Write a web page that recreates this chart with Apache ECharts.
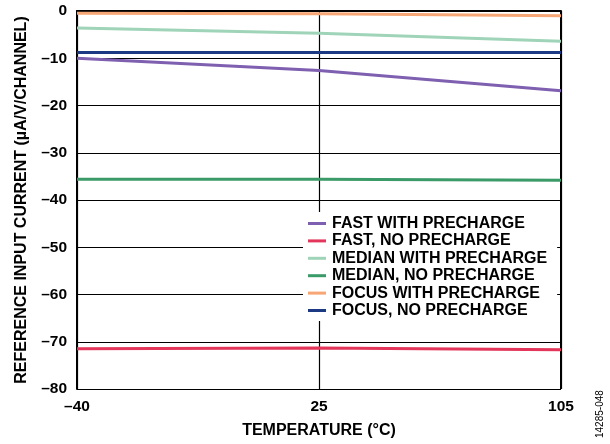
<!DOCTYPE html>
<html><head><meta charset="utf-8">
<script src="https://cdn.jsdelivr.net/npm/echarts@6/dist/echarts.min.js"></script>
<style>html,body{margin:0;padding:0;background:#fff}#c{width:610px;height:444px}</style>
</head><body><div id="c"></div>
<script>
const categories = ['-40', '25', '105'];
const fastWith = [-10.0, -12.6, -16.9];
const fastNo = [-71.5, -71.3, -71.7];
const medianWith = [-3.6, -4.7, -6.4];
const medianNo = [-35.6, -35.6, -35.8];
const focusWith = [-0.5, -0.6, -1.0];
const focusNo = [-8.8, -8.8, -8.8];
const seriesNames = ['FAST WITH PRECHARGE','FAST, NO PRECHARGE','MEDIAN WITH PRECHARGE','MEDIAN, NO PRECHARGE','FOCUS WITH PRECHARGE','FOCUS, NO PRECHARGE'];
const seriesData = [fastWith, fastNo, medianWith, medianNo, focusWith, focusNo];
const colors = ['#7e5fb0','#e3365a','#9fd4b8','#3a9a68','#f7a676','#1c3a84'];
const FONT = '"Liberation Sans", Arial, sans-serif';
const fmt = v => String(v).replace('-', '\u2013');
const chart = echarts.init(document.getElementById('c'));
chart.setOption({
  animation: false,
  color: colors,
  grid: {left: 77, right: 49, top: 11, bottom: 55},
  legend: {
    orient: 'vertical', left: 303, top: 212,
    data: seriesNames,
    icon: 'rect', itemWidth: 18, itemHeight: 3, itemGap: 0.4,
    backgroundColor: '#fff', padding: [3, 10, 2, 5],
    textStyle: {fontFamily: FONT, fontWeight: 'bold', fontSize: 16, color: '#000', lineHeight: 17, padding: [0,0,0,1]}
  },
  xAxis: {
    type: 'category', data: categories, boundaryGap: false,
    name: 'TEMPERATURE (°C)', nameLocation: 'middle', nameGap: 34,
    nameTextStyle: {fontFamily: FONT, fontWeight: 'bold', fontSize: 16, color: '#000'},
    axisLine: {lineStyle: {color: '#000', width: 2}},
    axisTick: {show: false},
    axisLabel: {formatter: fmt, fontFamily: FONT, fontWeight: 'bold', fontSize: 15.5, color: '#000', margin: 10},
    splitLine: {show: true, lineStyle: {color: '#000', width: 1.2}}
  },
  yAxis: {
    type: 'value', min: -80, max: 0, interval: 10,
    name: 'REFERENCE INPUT CURRENT (µA/V/CHANNEL)', nameLocation: 'middle', nameGap: 47,
    nameTextStyle: {fontFamily: FONT, fontWeight: 'bold', fontSize: 16, color: '#000'},
    axisLine: {show: true, lineStyle: {color: '#000', width: 2}},
    axisTick: {show: false},
    axisLabel: {formatter: fmt, fontFamily: FONT, fontWeight: 'bold', fontSize: 15.5, color: '#000', margin: 10},
    splitLine: {show: true, lineStyle: {color: '#000', width: 1.2}}
  },
  graphic: [
    {type: 'line', shape: {x1: 561, y1: 11, x2: 561, y2: 389}, style: {stroke: '#000', lineWidth: 2}, z: 1},
    {type: 'line', shape: {x1: 77, y1: 11, x2: 561, y2: 11}, style: {stroke: '#000', lineWidth: 1.5}, z: 1},
    {type: 'text', x: 595, y: 438, rotation: Math.PI/2,
     style: {text: '14285-048', fontFamily: FONT, fontSize: 10, fill: '#000', textAlign: 'left', textVerticalAlign: 'top'}}
  ],
  series: seriesNames.map((n, i) => ({
    name: n, type: 'line', data: seriesData[i], symbol: 'none', smooth: false,
    lineStyle: {width: 3, color: colors[i]}, z: 3
  }))
});
</script></body></html>
